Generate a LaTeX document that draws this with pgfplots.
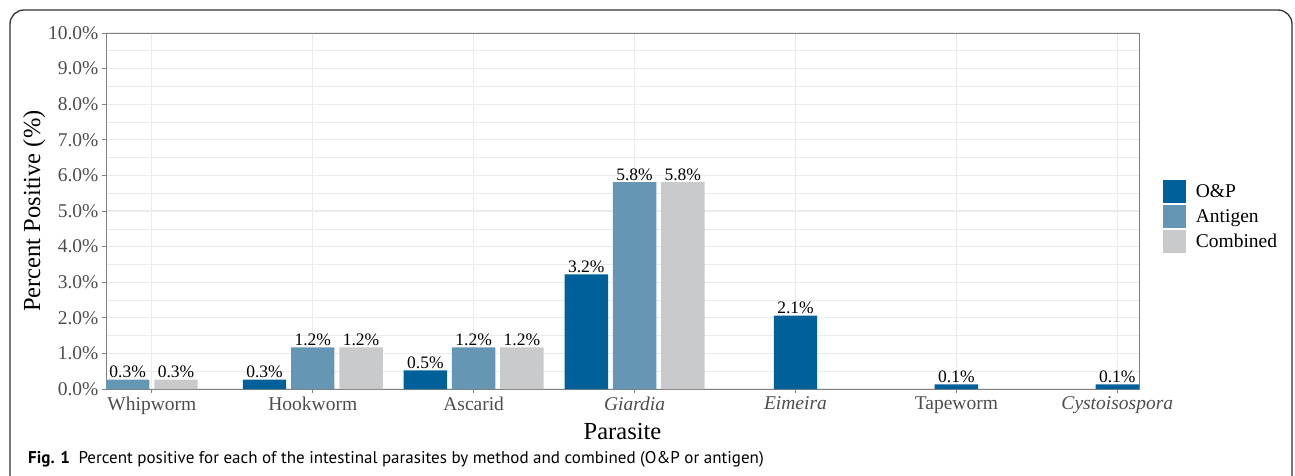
\documentclass[border=0pt]{standalone}
\usepackage{pgfplots}
\pgfplotsset{compat=1.18}
\usepackage{fontspec}
\setmainfont{Liberation Serif}
\newfontfamily\capfont{PT Sans}
\definecolor{op}{RGB}{0,96,154}
\definecolor{ag}{RGB}{101,150,180}
\definecolor{cb}{RGB}{201,202,204}
\definecolor{gridc}{RGB}{235,235,235}
\definecolor{axc}{RGB}{128,128,128}
\definecolor{tickc}{RGB}{77,77,77}

\begin{document}
\begin{tikzpicture}
\useasboundingbox (0pt,0pt) rectangle (1295pt,-476pt);
% frame round the figure (cut at the right and bottom)
\draw[line width=1.3pt, black!80, rounded corners=14pt]
  (10pt,-540pt) -- (10pt,-10pt) -- (1292pt,-10pt) -- (1292pt,-540pt);

\begin{axis}[
  at={(106pt,-389pt)}, anchor=south west,
  scale only axis, width=1033pt, height=356pt,
  xmin=0.715, xmax=7.135, ymin=0, ymax=10,
  ybar, bar width=0.27, bar shift=0pt,
  xtick={1,...,7},
  xticklabels={Whipworm,Hookworm,Ascarid,\textit{Giardia},\textit{Eimeira},Tapeworm,\textit{Cystoisospora}},
  ytick={0,...,10},
  yticklabels={0.0\%,1.0\%,2.0\%,3.0\%,4.0\%,5.0\%,6.0\%,7.0\%,8.0\%,9.0\%,10.0\%},
  minor ytick={0.5,1.5,...,9.5},
  grid=both,
  major grid style={gridc, line width=1.1pt},
  minor grid style={gridc, line width=0.6pt},
  axis line style={axc, line width=0.9pt},
  tick pos=left, tick align=outside,
  major tick length=4pt, minor tick length=0pt,
  tick style={axc, line width=0.9pt},
  ticklabel style={font=\fontsize{19.5}{22}\selectfont, text=tickc},
  xlabel={Parasite}, ylabel={Percent Positive (\%)},
  label style={font=\fontsize{24.5}{28}\selectfont},
  xlabel style={yshift=-2pt},
  ylabel style={yshift=-4pt},
  point meta=explicit symbolic,
  nodes near coords,
  nodes near coords style={font=\fontsize{17.5}{20}\selectfont, anchor=south, inner sep=1.5pt, text=black},
  legend style={at={(1.02,0.593)}, anchor=north west, draw=none, fill=none,
    font=\fontsize{19.5}{22}\selectfont, row sep=2pt, column sep=9pt,
    nodes={inner sep=1pt}},
  legend cell align=left,
  legend image code/.code={\fill[#1, draw=none] (0pt,-11.5pt) rectangle (23pt,11.5pt);},
]
% O&P
\addplot[fill=op, draw=none] coordinates {
  (1.7,0.26) [0.3\%] (2.7,0.52) [0.5\%] (3.7,3.22) [3.2\%]
  (5,2.06) [2.1\%] (6,0.13) [0.1\%] (7,0.13) [0.1\%]
};
% Antigen
\addplot[fill=ag, draw=none] coordinates {
  (0.85,0.26) [0.3\%] (2,1.17) [1.2\%] (3,1.17) [1.2\%] (4,5.81) [5.8\%]
};
% Combined
\addplot[fill=cb, draw=none] coordinates {
  (1.15,0.26) [0.3\%] (2.3,1.17) [1.2\%] (3.3,1.17) [1.2\%] (4.3,5.81) [5.8\%]
};
\legend{O\&P, Antigen, Combined}
\end{axis}

\node[anchor=base west, font=\capfont\fontsize{17}{20}\selectfont, inner sep=0pt]
  at (28pt,-463pt) {\textbf{Fig. 1}\hspace{0.5em}Percent positive for each of the intestinal parasites by method and combined (O\&P or antigen)};
\end{tikzpicture}
\end{document}
